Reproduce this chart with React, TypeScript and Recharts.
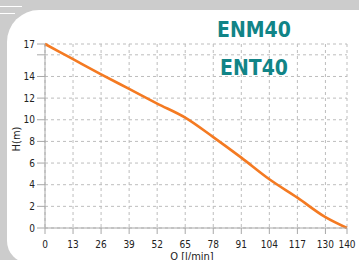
import React from 'react';
import { LineChart, Line, XAxis, YAxis, CartesianGrid } from 'recharts';

const flowQ = [0, 13, 26, 39, 52, 65, 78, 91, 104, 117, 130, 140];
const headH = [17, 15.6, 14.2, 12.85, 11.5, 10.2, 8.4, 6.5, 4.5, 2.8, 1.0, 0];
const xTicks = [0, 13, 26, 39, 52, 65, 78, 91, 104, 117, 130, 140];
const yTicks = [0, 2, 4, 6, 8, 10, 12, 14, 16, 17];
const yLabelled = [0, 2, 4, 6, 8, 10, 12, 14, 17];
const titles = ['ENM40', 'ENT40'];

const data = flowQ.map((q, i) => ({ q, h: headH[i] }));

const FONT = '"DejaVu Sans Condensed", "DejaVu Sans", sans-serif';
const TEAL = '#118487';

export default function App() {
  return (
    <div
      style={{
        position: 'absolute',
        left: 0,
        top: 0,
        width: 359,
        height: 260,
        background: '#cccccc',
        overflow: 'hidden',
        fontFamily: FONT,
      }}
    >
      <div style={{ position: 'absolute', left: 0, top: 6, width: 22, height: 1, background: '#fff' }} />
      <div style={{ position: 'absolute', left: 0, top: 13, width: 15, height: 1, background: '#fff' }} />
      <div
        style={{
          position: 'absolute',
          left: 7,
          top: 10,
          width: 360,
          height: 253,
          background: '#fff',
          borderTopLeftRadius: 32,
          borderBottomLeftRadius: 22,
        }}
      />
      <div style={{ position: 'absolute', left: 0, top: 0 }}>
        <LineChart width={359} height={260} data={data} margin={{ top: 44, right: 12, bottom: 0, left: 0 }}>
          <CartesianGrid stroke="#bdbdbd" strokeDasharray="3 3" horizontalValues={yTicks} verticalValues={xTicks} />
          <XAxis
            dataKey="q"
            type="number"
            domain={[0, 140]}
            ticks={xTicks}
            interval={0}
            height={32}
            tickSize={6}
            tickMargin={7}
            stroke="#a8a8a8"
            tick={{ fill: '#222', fontSize: 10, fontFamily: FONT }}
          />
          <YAxis
            type="number"
            domain={[0, 17]}
            ticks={yTicks}
            interval={0}
            width={45}
            tickSize={8}
            tickMargin={2}
            stroke="#a8a8a8"
            tick={{ fill: '#222', fontSize: 10, fontFamily: FONT }}
            tickFormatter={(v: number) => (yLabelled.includes(v) ? String(v) : '')}
          />
          <Line
            type="monotone"
            dataKey="h"
            stroke="#f47a22"
            strokeWidth={2.6}
            dot={false}
            isAnimationActive={false}
          />
        </LineChart>
      </div>
      {titles.map((t, i) => (
        <div
          key={t}
          style={{
            position: 'absolute',
            left: 204,
            width: 100,
            top: i === 0 ? 17 : 55,
            textAlign: 'center',
            color: TEAL,
            fontWeight: 'bold',
            fontSize: 21,
            lineHeight: '26px',
            fontFamily: FONT,
          }}
        >
          {t}
        </div>
      ))}
      <div
        style={{
          position: 'absolute',
          left: 152,
          width: 80,
          top: 251,
          textAlign: 'center',
          fontSize: 11,
          lineHeight: '11px',
          color: '#222',
        }}
      >
        Q [l/min]
      </div>
      <div
        style={{
          position: 'absolute',
          left: -13,
          top: 132,
          width: 60,
          height: 14,
          textAlign: 'center',
          fontSize: 11,
          lineHeight: '14px',
          color: '#222',
          transform: 'rotate(-90deg)',
        }}
      >
        H(m)
      </div>
    </div>
  );
}
